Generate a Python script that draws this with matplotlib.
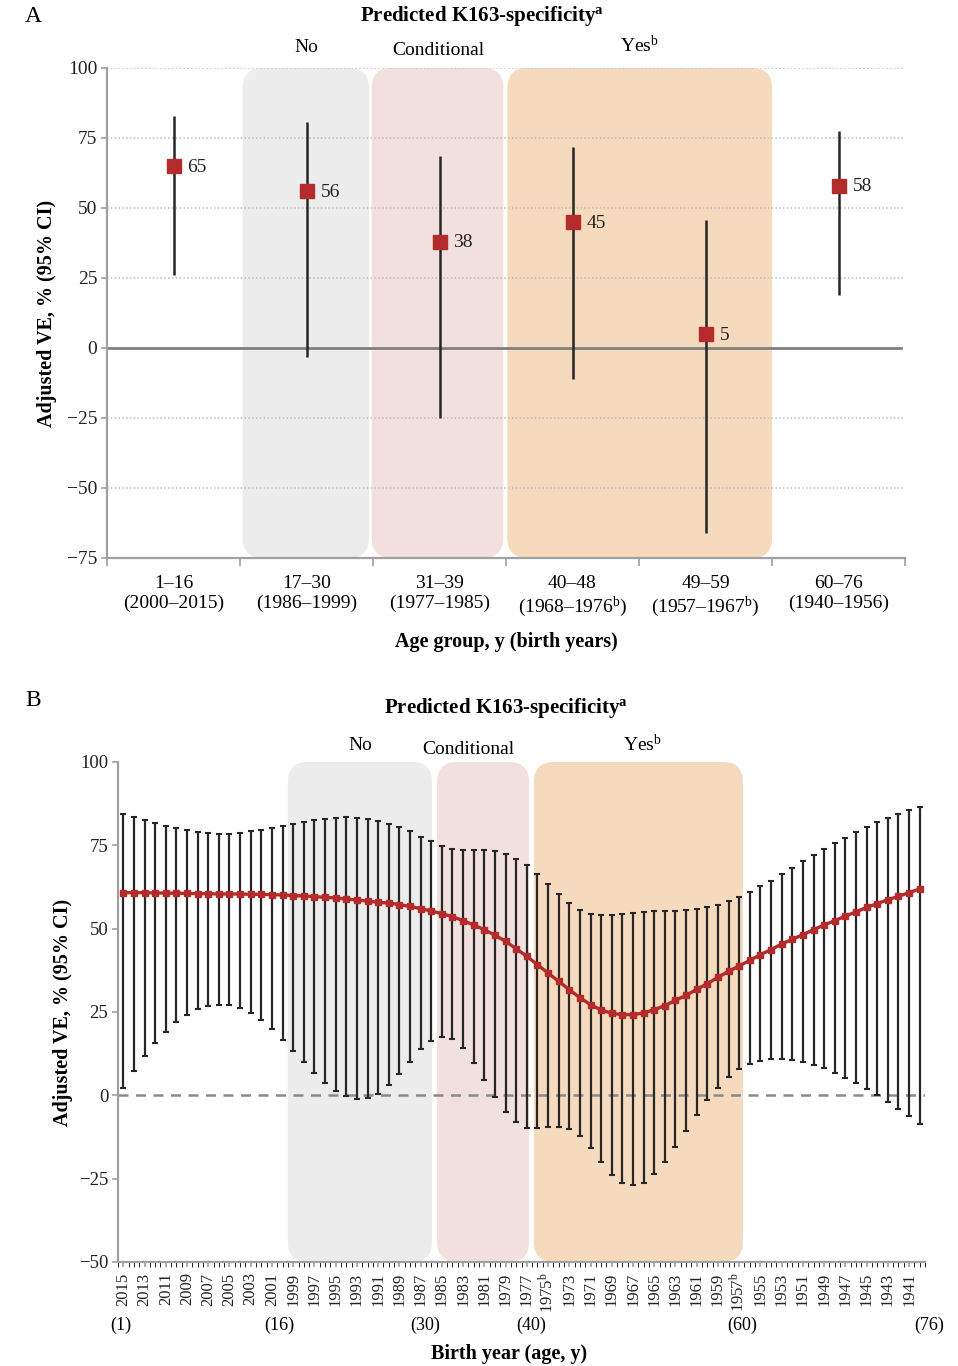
import numpy as np
import matplotlib
matplotlib.use("Agg")
import matplotlib.pyplot as plt
import matplotlib.transforms as mtransforms
from matplotlib.patches import FancyBboxPatch
from matplotlib.ticker import FixedLocator, NullFormatter

plt.rcParams['font.family'] = ['Liberation Serif', 'DejaVu Serif']
plt.rcParams['mathtext.fontset'] = 'custom'
plt.rcParams['mathtext.rm'] = 'Liberation Serif'
plt.rcParams['mathtext.bf'] = 'Liberation Serif:bold'
plt.rcParams['mathtext.it'] = 'Liberation Serif:italic'

# ---- panel A data: age groups ----
age_groups = ["1–16", "17–30", "31–39", "40–48", "49–59", "60–76"]
group_births = ["(2000–2015)", "(1986–1999)", "(1977–1985)",
                "(1968–1976$^{\\mathrm{b}}$)", "(1957–1967$^{\\mathrm{b}}$)", "(1940–1956)"]
ve_group = [65, 56, 38, 45, 5, 58]
low_group = [26.0, -3.1, -25.1, -11.1, -66.2, 18.9]
high_group = [82.9, 80.7, 68.7, 71.7, 45.7, 77.6]

# ---- panel B data: single birth years 2015..1940 ----
birth_years = list(range(2015, 1939, -1))
starred_years = [1975, 1957]
age_marks = [1, 16, 30, 40, 60, 76]

ve_year = [60.8, 60.8, 60.8, 60.7, 60.7, 60.6, 60.6, 60.5, 60.5, 60.4,
           60.4, 60.4, 60.3, 60.3, 60.2, 60.1, 59.9, 59.8, 59.6, 59.4,
           59.2, 58.9, 58.6, 58.3, 57.9, 57.7, 57.2, 56.7, 56.0, 55.3,
           54.5, 53.6, 52.4, 51.1, 49.7, 48.0, 46.2, 44.0, 41.7, 39.2,
           36.7, 34.2, 31.7, 29.3, 27.2, 25.6, 24.6, 24.2, 24.2, 24.7,
           25.7, 26.9, 28.5, 30.0, 31.8, 33.5, 35.4, 37.2, 38.8, 40.5,
           42.2, 43.7, 45.4, 46.8, 48.2, 49.7, 51.1, 52.4, 53.8, 55.0,
           56.4, 57.5, 58.7, 59.7, 60.8, 61.9]
high_year = [84.5, 83.5, 82.6, 81.8, 80.9, 80.2, 79.5, 79.1, 78.8, 78.5,
             78.5, 78.8, 79.2, 79.5, 80.1, 80.9, 81.5, 82.1, 82.6, 83.0,
             83.3, 83.4, 83.3, 83.0, 82.4, 81.5, 80.5, 79.2, 77.6, 76.2,
             74.8, 73.9, 73.6, 73.5, 73.5, 73.2, 72.3, 71.0, 69.0, 66.3,
             63.5, 60.5, 57.7, 55.5, 54.5, 54.1, 54.2, 54.4, 54.7, 55.0,
             55.2, 55.3, 55.4, 55.6, 55.9, 56.4, 57.1, 58.2, 59.5, 61.0,
             62.7, 64.4, 66.3, 68.3, 70.3, 72.1, 73.9, 75.6, 77.3, 78.9,
             80.4, 81.9, 83.1, 84.4, 85.5, 86.4]
low_year = [2.3, 7.2, 11.8, 15.7, 19.0, 21.9, 24.2, 25.9, 26.8, 27.2,
            27.0, 26.2, 24.6, 22.5, 19.9, 16.7, 13.3, 10.0, 6.7, 3.8,
            1.4, -0.3, -1.0, -0.8, 0.5, 3.0, 6.4, 10.0, 13.8, 16.4,
            17.5, 16.9, 14.2, 9.8, 4.7, -0.5, -5.1, -8.0, -9.7, -9.8,
            -9.6, -9.4, -10.2, -12.3, -15.8, -20.0, -23.8, -26.3, -27.0, -26.2,
            -23.7, -20.0, -15.5, -10.7, -6.0, -1.5, 2.3, 5.5, 7.8, 9.3,
            10.3, 11.0, 11.0, 10.7, 10.1, 9.2, 8.2, 6.8, 5.2, 3.7,
            1.9, 0.0, -2.0, -4.1, -6.3, -8.7]

band_names = ["No", "Conditional", "Yes$^{\\mathrm{b}}$"]
band_colors = ["#ececec", "#f1e0de", "#f6dabe"]

red = "#b32b2b"
dark = "#262626"
axis_grey = "#a0a0a0"

fig = plt.figure(figsize=(9.58, 13.66), dpi=100)
W, H = 958, 1366


def add_band(ax, x0, x1, color, radius_px=20):
    # rounded rectangle spanning the full y range, corners given in pixels
    pos = ax.get_position()
    wpx, hpx = pos.width * W, pos.height * H
    xl, yl = ax.get_xlim(), ax.get_ylim()
    xu = (xl[1] - xl[0]) / wpx
    yu = (yl[1] - yl[0]) / hpx
    p = FancyBboxPatch((x0, yl[0]), x1 - x0, yl[1] - yl[0],
                       boxstyle=f"round,pad=0,rounding_size={radius_px * xu}",
                       mutation_aspect=yu / xu, fc=color, ec="none", zorder=0)
    ax.add_patch(p)


def style_axes(ax):
    for s in ["top", "right"]:
        ax.spines[s].set_visible(False)
    for s in ["left", "bottom"]:
        ax.spines[s].set_color(axis_grey)
        ax.spines[s].set_linewidth(1.6)
    ax.tick_params(colors=axis_grey, labelcolor="#222222", width=1.2)


# ================= Panel A =================
axA = fig.add_axes([107 / W, 1 - 558 / H, (905 - 107) / W, (558 - 68) / H])
xa = np.arange(len(age_groups))
axA.set_xlim(-0.5, 5.5)
axA.set_ylim(-75, 100)
style_axes(axA)

for yv in range(-50, 101, 25):
    if yv != 0:
        axA.axhline(yv, color="#bdbdbd", lw=1.1, ls=(0, (1, 1.5)), zorder=0.5)
axA.plot([-0.5, 5.47], [0, 0], color="#7f7f7f", lw=2.0, zorder=0.6)

add_band(axA, 0.52, 1.47, band_colors[0])
add_band(axA, 1.49, 2.48, band_colors[1])
add_band(axA, 2.51, 4.50, band_colors[2])

ve_g = np.array(ve_group, float)
axA.errorbar(xa, ve_g, yerr=[ve_g - np.array(low_group), np.array(high_group) - ve_g],
             fmt="none", ecolor=dark, elinewidth=1.8, capsize=0, zorder=2)
axA.plot(xa, ve_g, "s", color=red, ms=9.5, zorder=3)
for x, v in zip(xa, ve_group):
    axA.annotate(str(v), (x, v), xytext=(10, -1), textcoords="offset points",
                 va="center", ha="left", fontsize=14, color="#222222")

axA.set_yticks(range(-75, 101, 25))
axA.tick_params(axis="y", length=4, labelsize=14, pad=3)
axA.xaxis.set_major_locator(FixedLocator(np.arange(-0.5, 5.6, 1)))
axA.xaxis.set_major_formatter(NullFormatter())
axA.xaxis.set_minor_locator(FixedLocator(xa))
axA.set_xticklabels([f"{a}\n{b}" for a, b in zip(age_groups, group_births)], minor=True)
axA.tick_params(axis="x", which="major", length=6, direction="out")
axA.tick_params(axis="x", which="minor", length=0, labelsize=14, pad=12)
axA.set_xlabel("Age group, y (birth years)", fontsize=14.5, fontweight="bold", labelpad=9)
axA.set_ylabel("Adjusted VE, % (95% CI)", fontsize=14.5, fontweight="bold")
axA.yaxis.set_label_coords(-0.063, 0.5)

trA = mtransforms.blended_transform_factory(axA.transData, axA.transAxes)
axA.text(1.0, 1.025, band_names[0], transform=trA, ha="center", va="bottom", fontsize=14)
axA.text(1.99, 1.018, band_names[1], transform=trA, ha="center", va="bottom", fontsize=14)
axA.text(3.5, 1.025, band_names[2], transform=trA, ha="center", va="bottom", fontsize=14)
fig.text(482 / W, 1 - 16 / H, "Predicted K163-specificity$^{\\mathbf{a}}$", ha="center",
         va="center", fontsize=15, fontweight="bold")
fig.text(33 / W, 1 - 17 / H, "A", ha="center", va="center", fontsize=17)

# ================= Panel B =================
axB = fig.add_axes([118 / W, 1 - 1262 / H, (925 - 118) / W, (1262 - 762) / H])
xb = np.arange(len(birth_years))
axB.set_xlim(-0.5, 75.5)
axB.set_ylim(-50, 100)
style_axes(axB)

add_band(axB, 15.5, 29.07, band_colors[0])
add_band(axB, 29.54, 38.2, band_colors[1])
add_band(axB, 38.67, 58.35, band_colors[2])

axB.axhline(0, color="#8a8a8a", lw=1.8, ls=(0, (4, 3)), zorder=1)
ve_y = np.array(ve_year, float)
axB.errorbar(xb, ve_y, yerr=[ve_y - np.array(low_year), np.array(high_year) - ve_y],
             fmt="none", ecolor=dark, elinewidth=1.6, capsize=2.4, capthick=1.5, zorder=2)
axB.plot(xb, ve_y, "-s", color=red, lw=2.4, ms=4.8, zorder=3)

axB.set_yticks(range(-50, 101, 25))
axB.tick_params(axis="y", length=4, labelsize=13.5, pad=3)
major_pos = xb[::2]
axB.xaxis.set_major_locator(FixedLocator(major_pos))
labels = []
for i in major_pos:
    yr = birth_years[i]
    labels.append(f"{yr}$^{{\\mathrm{{b}}}}$" if yr in starred_years else str(yr))
axB.set_xticklabels(labels, rotation=90, fontsize=12)
minor_pos = [p for p in np.arange(-0.5, 75.6, 0.5) if p not in set(major_pos)]
axB.xaxis.set_minor_locator(FixedLocator(minor_pos))
axB.tick_params(axis="x", which="both", length=3.5, direction="out", pad=4)

trB = mtransforms.blended_transform_factory(axB.transData, axB.transAxes)
age_xpos = [-0.2, 14.7, 28.4, 38.45, 58.3, 75.9]
for a, xp in zip(age_marks, age_xpos):
    axB.text(xp, -0.126, f"({a})", transform=trB, ha="center", va="center", fontsize=13)

fig.text(509 / W, 1 - 1354 / H, "Birth year (age, y)", ha="center", va="center",
         fontsize=14.5, fontweight="bold")
axB.set_ylabel("Adjusted VE, % (95% CI)", fontsize=14.5, fontweight="bold")
axB.yaxis.set_label_coords(-0.056, 0.5)

axB.text(22.3, 1.034, band_names[0], transform=trB, ha="center", va="center", fontsize=14)
axB.text(32.5, 1.026, band_names[1], transform=trB, ha="center", va="center", fontsize=14)
axB.text(48.9, 1.034, band_names[2], transform=trB, ha="center", va="center", fontsize=14)
fig.text(506 / W, 1 - 708 / H, "Predicted K163-specificity$^{\\mathbf{a}}$", ha="center",
         va="center", fontsize=15, fontweight="bold")
fig.text(33 / W, 1 - 700 / H, "B", ha="center", va="center", fontsize=17)

fig.savefig("out.png", dpi=100)
